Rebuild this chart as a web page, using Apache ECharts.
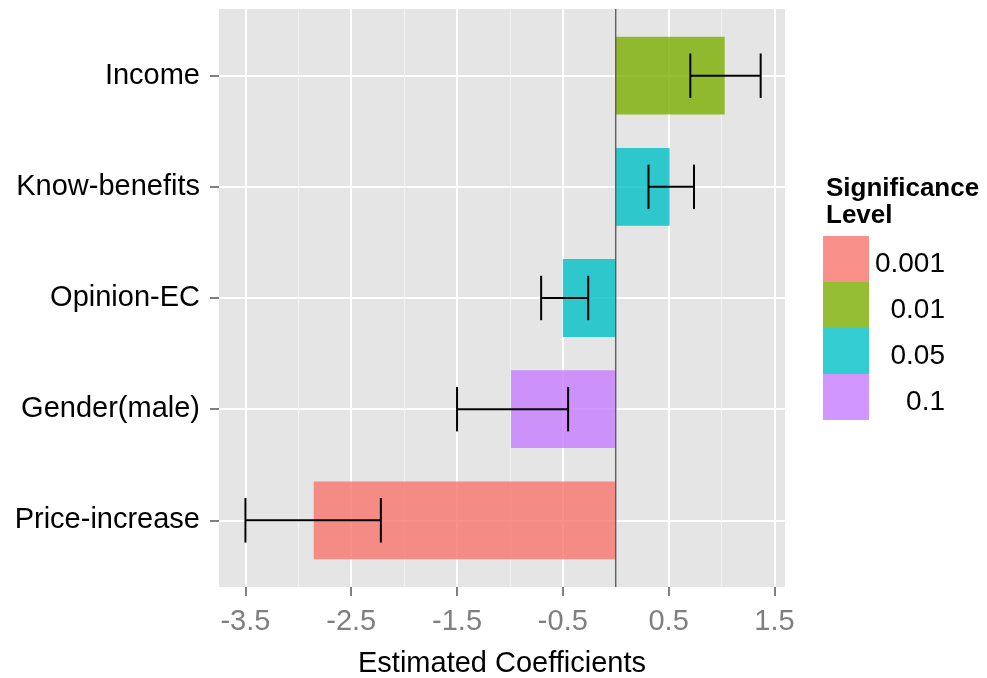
<!DOCTYPE html>
<html>
<head>
<meta charset="utf-8">
<script src="https://cdn.jsdelivr.net/npm/echarts@6/dist/echarts.min.js"></script>
<style>
  html, body { margin: 0; padding: 0; background: #fff; }
  #chart { width: 987px; height: 678px; }
</style>
</head>
<body>
<div id="chart"></div>
<script>
// top to bottom, as drawn
const categories = ["Income", "Know-benefits", "Opinion-EC", "Gender(male)", "Price-increase"];
const estimates = [1.03, 0.51, -0.5, -0.99, -2.855];
const ciLow = [0.705, 0.31, -0.705, -1.5, -3.5];
const ciHigh = [1.37, 0.74, -0.26, -0.45, -2.22];
const significance = ["0.01", "0.05", "0.05", "0.1", "0.001"];

const levels = ["0.001", "0.01", "0.05", "0.1"];
const levelColors = ["rgba(248,118,109,0.8)", "rgba(124,174,0,0.8)", "rgba(0,191,196,0.8)", "rgba(199,124,255,0.8)"];

const majorTicks = [-3.5, -2.5, -1.5, -0.5, 0.5, 1.5];
const minorTicks = [-3, -2, -1, 0, 1];

const font = "'Liberation Sans', Arial, sans-serif";
const chart = echarts.init(document.getElementById("chart"));

function renderBar(params, api) {
  const y = api.value(1);
  const start = api.coord([0, y]);
  const end = api.coord([api.value(0), y]);
  const h = api.size([0, 0.7])[1];
  return {
    type: "rect",
    shape: {
      x: Math.min(start[0], end[0]),
      y: start[1] - h / 2,
      width: Math.abs(end[0] - start[0]),
      height: h
    },
    style: { fill: api.visual("color") }
  };
}

function renderErrorBar(params, api) {
  const y = api.value(2);
  const lo = api.coord([api.value(0), y]);
  const hi = api.coord([api.value(1), y]);
  const half = api.size([0, 0.4])[1] / 2;
  const style = { stroke: "#000", lineWidth: 2 };
  return {
    type: "group",
    children: [
      { type: "line", shape: { x1: lo[0], y1: lo[1], x2: hi[0], y2: hi[1] }, style },
      { type: "line", shape: { x1: lo[0], y1: lo[1] - half, x2: lo[0], y2: lo[1] + half }, style },
      { type: "line", shape: { x1: hi[0], y1: hi[1] - half, x2: hi[0], y2: hi[1] + half }, style }
    ]
  };
}

const barSeries = levels.map((lvl, k) => ({
  name: lvl,
  type: "custom",
  renderItem: renderBar,
  itemStyle: { color: levelColors[k] },
  encode: { x: 0, y: 1 },
  data: categories
    .map((c, i) => [estimates[i], i, significance[i]])
    .filter(d => d[2] === lvl)
    .map(d => [d[0], d[1]]),
  z: 2
}));

const option = {
  animation: false,
  textStyle: { fontFamily: font },
  title: {
    text: "Significance\nLevel",
    left: 826,
    top: 175,
    padding: 0,
    textStyle: { fontFamily: font, fontSize: 26, fontWeight: "bold", color: "#000", lineHeight: 27 }
  },
  legend: {
    data: levels,
    orient: "vertical",
    left: 823,
    top: 236,
    padding: 0,
    itemWidth: 46,
    itemHeight: 46,
    itemGap: 0,
    icon: "rect",
    selectedMode: false,
    formatter: name => "{r|" + name + "}",
    textStyle: {
      fontFamily: font,
      fontSize: 28,
      color: "#000",
      rich: { r: { width: 71, align: "right", fontSize: 28, fontFamily: font, color: "#000", padding: [10, 0, 0, 0] } }
    }
  },
  grid: {
    left: 219,
    right: 202,
    top: 9,
    bottom: 91,
    outerBoundsMode: "none",
    show: true,
    backgroundColor: "#E5E5E5",
    borderWidth: 0
  },
  xAxis: [
    {
      type: "value",
      min: -3.75,
      max: 1.6,
      name: "Estimated Coefficients",
      nameLocation: "middle",
      nameGap: 62,
      nameTextStyle: { fontFamily: font, fontSize: 29, color: "#000" },
      axisLine: { show: false, onZero: false },
      axisTick: { show: true, length: 9, customValues: majorTicks, lineStyle: { color: "#7f7f7f", width: 2 } },
      axisLabel: { customValues: majorTicks, margin: 20, fontSize: 29, color: "#7f7f7f", fontFamily: font },
      splitLine: { show: true, lineStyle: { color: "#ffffff", width: 2 } }
    },
    {
      type: "value",
      min: -3.75,
      max: 1.6,
      position: "bottom",
      axisLine: { show: false, onZero: false },
      axisTick: { show: false, customValues: minorTicks },
      axisLabel: { show: false, customValues: minorTicks },
      splitLine: { show: true, lineStyle: { color: "#F2F2F2", width: 1 } }
    }
  ],
  yAxis: {
    type: "value",
    min: -0.6,
    max: 4.6,
    inverse: true,
    axisLine: { show: false, onZero: false },
    axisTick: { show: true, length: 9, customValues: [0, 1, 2, 3, 4], lineStyle: { color: "#7f7f7f", width: 2 } },
    axisLabel: {
      customValues: [0, 1, 2, 3, 4],
      formatter: v => categories[Math.round(v)],
      margin: 19,
      fontSize: 29,
      color: "#000",
      fontFamily: font,
      padding: [4, 0, 0, 0]
    },
    splitLine: { show: true, lineStyle: { color: "#ffffff", width: 2 } }
  },
  series: [
    ...barSeries,
    {
      name: "zero",
      type: "custom",
      renderItem: (params, api) => {
        const a = api.coord([api.value(0), -0.6]);
        const b = api.coord([api.value(0), 4.6]);
        return { type: "line", shape: { x1: a[0], y1: a[1], x2: b[0], y2: b[1] }, style: { stroke: "#555", lineWidth: 1.3 } };
      },
      encode: { x: 0 },
      data: [[0]],
      z: 3
    },
    {
      name: "ci",
      type: "custom",
      renderItem: renderErrorBar,
      encode: { x: [0, 1], y: 2 },
      data: categories.map((c, i) => [ciLow[i], ciHigh[i], i]),
      z: 4
    }
  ]
};

chart.setOption(option);
</script>
</body>
</html>
